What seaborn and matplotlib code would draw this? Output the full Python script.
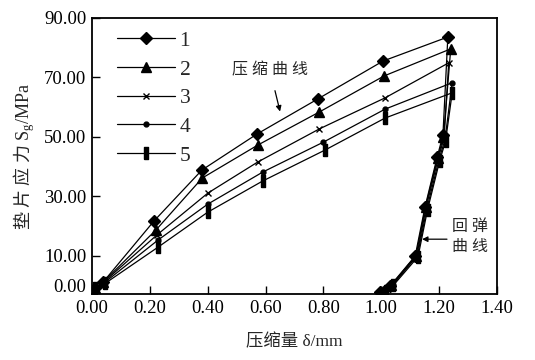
import numpy as np
import pandas as pd
import matplotlib
matplotlib.use("Agg")
import matplotlib.pyplot as plt
import seaborn as sns

# compression + return (unloading) curves
x1 = [0.01, 0.038, 0.214, 0.38, 0.57, 0.78, 1.006, 1.23, 1.213, 1.193, 1.151, 1.117, 1.03, 0.996]
y1 = [-1.0, 1.0, 21.6, 38.8, 50.9, 62.7, 75.5, 83.6, 50.5, 43.1, 26.3, 9.8, -0.3, -2.3]
x2 = [0.01, 0.038, 0.221, 0.381, 0.573, 0.785, 1.01, 1.24, 1.215, 1.195, 1.153, 1.12, 1.035, 1.005]
y2 = [-1.0, 1.0, 18.6, 36.1, 47.2, 58.3, 70.5, 79.6, 50.0, 43.0, 26.5, 10.0, 0.0, -1.8]
x3 = [0.01, 0.04, 0.224, 0.40, 0.573, 0.785, 1.013, 1.233, 1.217, 1.197, 1.156, 1.123, 1.038, 1.01]
y3 = [-1.0, 1.0, 16.9, 31.0, 41.5, 52.6, 63.1, 74.9, 49.5, 42.8, 26.7, 10.2, 0.3, -1.5]
x4 = [0.01, 0.042, 0.228, 0.40, 0.59, 0.80, 1.013, 1.245, 1.22, 1.2, 1.158, 1.125, 1.04, 1.012]
y4 = [-1.0, 0.8, 15.2, 27.3, 38.1, 48.2, 59.3, 68.2, 49.0, 42.5, 26.0, 10.0, 0.2, -1.6]
x5 = [0.01, 0.045, 0.228, 0.40, 0.59, 0.805, 1.013, 1.245, 1.222, 1.202, 1.16, 1.127, 1.042, 1.015]
y5 = [-1.0, 0.6, 12.8, 24.6, 35.1, 45.5, 56.3, 64.8, 48.5, 42.0, 25.5, 9.6, 0.0, -1.8]

series_labels = ["1", "2", "3", "4", "5"]
xticks = [0.0, 0.2, 0.4, 0.6, 0.8, 1.0, 1.2, 1.4]
yticks = [0, 10, 30, 50, 70, 90]

bar_marker = [(-0.35, -1), (0.35, -1), (0.35, 1), (-0.35, 1), (-0.35, -1)]
markers = ["D", "^", "x", "o", bar_marker]
msizes = [6.5, 7, 4, 3.5, 9]

sns.set_style("ticks")
plt.rcParams["font.family"] = ["Liberation Serif", "Noto Sans CJK SC"]
plt.rcParams["mathtext.fontset"] = "custom"
plt.rcParams["mathtext.rm"] = "Liberation Serif"
plt.rcParams["mathtext.it"] = "Liberation Serif:italic"
plt.rcParams["mathtext.sf"] = "Noto Sans CJK SC"

fig = plt.figure(figsize=(5.35, 3.6), dpi=100)
ax = fig.add_axes([0.172, 0.183, 0.757, 0.767])

all_x = [x1, x2, x3, x4, x5]
all_y = [y1, y2, y3, y4, y5]
for xs, ys, lab, mk, ms in zip(all_x, all_y, series_labels, markers, msizes):
    df = pd.DataFrame({"x": xs, "y": ys})
    sns.lineplot(data=df, x="x", y="y", ax=ax, sort=False, estimator=None,
                 color="black", linewidth=0.9, marker=mk, markersize=ms,
                 markeredgecolor="black", markerfacecolor="black",
                 markeredgewidth=1.0, label=lab)

ax.set_xlim(0, 1.4)
ax.set_ylim(-3, 90)
ax.set_xticks(xticks)
ax.set_xticklabels(["%.2f" % v for v in xticks], fontsize=13.5)
ax.set_yticks(yticks)
ax.set_yticklabels(["%.2f" % v for v in yticks], fontsize=13.5)
ax.tick_params(direction="in", length=6, width=1, colors="black", pad=4)
for s in ax.spines.values():
    s.set_linewidth(1.3)
    s.set_color("black")

ax.set_xlabel("压缩量 δ/mm", fontsize=12.5, labelpad=12)
ax.set_ylabel(r"$\mathsf{垫\ 片\ 应\ 力}\ \mathrm{S}_\mathrm{g}/\mathrm{MPa}$",
              fontsize=13, labelpad=5)

ax.annotate("压 缩 曲 线", xy=(0.65, 58.5), xytext=(0.615, 72.5),
            fontsize=11.5, ha="center", va="center",
            arrowprops=dict(arrowstyle="-|>", color="black", lw=0.9,
                            shrinkA=7, shrinkB=0, mutation_scale=8))
ax.annotate("", xy=(1.141, 15.5), xytext=(1.227, 15.5),
            arrowprops=dict(arrowstyle="-|>", color="black", lw=0.9,
                            shrinkA=0, shrinkB=0, mutation_scale=8))
ax.text(1.306, 16.2, "回 弹\n曲 线", fontsize=11.5, ha="center", va="center",
        linespacing=1.3)

leg = ax.legend(loc="upper left", bbox_to_anchor=(0.03, 1.0), frameon=False,
                fontsize=15.5, handlelength=2.7, handletextpad=0.2,
                labelspacing=0.4, borderaxespad=0.2)

fig.savefig("out.png", dpi=100)
